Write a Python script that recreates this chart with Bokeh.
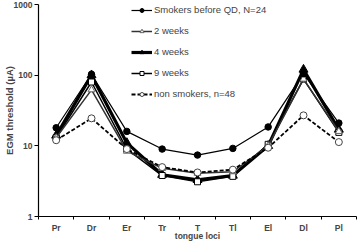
from bokeh.plotting import figure
from bokeh.models import FixedTicker, NumeralTickFormatter, Legend, LegendItem
from bokeh.embed import file_html
from bokeh.resources import INLINE

loci = ["Pr", "Dr", "Er", "Tr", "T", "Tl", "El", "Dl", "Pl"]
xpos = [1, 2, 3, 4, 5, 6, 7, 8, 9]

smokers_before = [18, 103, 16, 9.0, 7.4, 9.2, 18.5, 105, 21]
weeks2 = [13, 62, 8.4, 4.8, 4.1, 4.3, 10, 88, 16]
weeks4 = [14, 100, 11, 3.9, 3.3, 3.8, 10, 120, 17]
weeks9 = [13, 80, 9.0, 3.8, 3.1, 3.7, 10.5, 88, 15.5]
non_smokers = [12, 24.5, 9.0, 5.0, 4.2, 4.6, 9.4, 27, 11.3]

labels = ["Smokers before QD, N=24", "2 weeks", "4 weeks", "9 weeks", "non smokers, n=48"]
yticks = [1, 10, 100, 1000]

FONT = "Liberation Sans"

p = figure(width=357, height=243, output_backend="svg", toolbar_location=None,
           y_axis_type="log", x_range=(0.5, 9.5), y_range=(1, 1000),
           min_border_left=0, min_border_right=1, min_border_top=4, min_border_bottom=0)
p.outline_line_color = None
p.grid.visible = False
p.background_fill_color = "white"
p.border_fill_color = "white"

# draw order (thick first, dashed on top)
r4l = p.line(xpos, weeks4, line_color="black", line_width=3.2)
r4m = p.scatter(xpos, weeks4, marker="triangle", size=9, fill_color="black", line_color="black")
r9l = p.line(xpos, weeks9, line_color="black", line_width=1.5)
r9m = p.scatter(xpos, weeks9, marker="square", size=6, fill_color="white", line_color="black", line_width=1)
r2l = p.line(xpos, weeks2, line_color="#333333", line_width=1.5)
r2m = p.scatter(xpos, weeks2, marker="triangle", size=7, fill_color="white", line_color="#666666", line_width=1)
r0l = p.line(xpos, smokers_before, line_color="black", line_width=1.2)
r0m = p.scatter(xpos, smokers_before, marker="circle", size=6.5, fill_color="black", line_color="black")
rnl = p.line(xpos, non_smokers, line_color="black", line_width=1.8, line_dash="4 2")
rnm = p.scatter(xpos, non_smokers, marker="circle", size=7, fill_color="white", line_color="#444444", line_width=1)

legend = Legend(items=[
    LegendItem(label=labels[0], renderers=[r0l, r0m]),
    LegendItem(label=labels[1], renderers=[r2l, r2m]),
    LegendItem(label=labels[2], renderers=[r4l, r4m]),
    LegendItem(label=labels[3], renderers=[r9l, r9m]),
    LegendItem(label=labels[4], renderers=[rnl, rnm]),
], location=(93, 117))
legend.border_line_color = None
legend.background_fill_alpha = 0
legend.padding = 0
legend.margin = 0
legend.spacing = 10
legend.glyph_width = 21
legend.glyph_height = 10
legend.label_height = 10
legend.label_standoff = 2
legend.label_text_font = FONT
legend.label_text_font_size = "9.5px"
legend.label_text_baseline = "middle"
p.add_layout(legend)

# x axis
xa = p.xaxis[0]
xa.ticker = FixedTicker(ticks=xpos, minor_ticks=[x - 0.5 for x in xpos] + [9.5])
xa.major_label_overrides = {x: lab for x, lab in zip(xpos, loci)}
xa.major_tick_out = 0
xa.major_tick_in = 0
xa.minor_tick_out = 3
xa.minor_tick_in = 0
xa.major_label_standoff = 3
xa.major_label_text_font = FONT
xa.major_label_text_font_style = "bold"
xa.major_label_text_font_size = "8.5px"
xa.axis_label = "tongue loci"
xa.axis_label_standoff = -5
xa.axis_label_text_font = FONT
xa.axis_label_text_font_style = "bold"
xa.axis_label_text_font_size = "8.5px"
xa.axis_line_color = "black"
xa.axis_line_width = 1.2

# y axis
ya = p.yaxis[0]
ya.ticker = FixedTicker(ticks=yticks, minor_ticks=[])
ya.formatter = NumeralTickFormatter(format="0")
ya.major_tick_out = 4
ya.major_tick_in = 0
ya.minor_tick_out = 0
ya.minor_tick_in = 0
ya.major_label_standoff = 2
ya.major_label_text_font = FONT
ya.major_label_text_font_style = "bold"
ya.major_label_text_font_size = "8.5px"
ya.axis_label = "EGM threshold (µA)"
ya.axis_label_standoff = -4
ya.axis_label_text_font = FONT
ya.axis_label_text_font_style = "bold"
ya.axis_label_text_font_size = "9.5px"
ya.axis_line_color = "black"
ya.axis_line_width = 1.2

open("out.html", "w").write(file_html(p, INLINE))
